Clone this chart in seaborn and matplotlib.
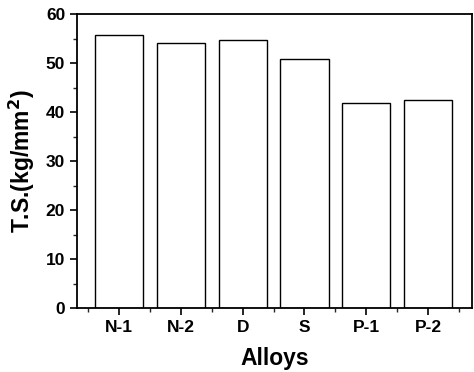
import matplotlib
matplotlib.use("Agg")
import matplotlib.pyplot as plt
import seaborn as sns
import pandas as pd
from matplotlib.ticker import MultipleLocator, FixedLocator

alloys = ["N-1", "N-2", "D", "S", "P-1", "P-2"]
ts_values = [55.7, 54.1, 54.7, 50.8, 41.8, 42.4]

sns.set_theme(style="ticks")
plt.rcParams['font.family'] = ['Liberation Sans', 'DejaVu Sans']
plt.rcParams['font.weight'] = 'bold'

df = pd.DataFrame({"Alloys": alloys, "TS": ts_values})

fig = plt.figure(figsize=(4.74, 3.72), dpi=100)
ax = fig.add_axes([77/474, 1-308/372, (472-77)/474, (308-14)/372])
sns.barplot(data=df, x="Alloys", y="TS", color="white", edgecolor="black",
            linewidth=1.0, width=0.78, ax=ax, saturation=1)

ax.set_xlim(-0.68, 5.71)
ax.set_ylim(0, 60)
ax.yaxis.set_major_locator(MultipleLocator(10))
ax.yaxis.set_minor_locator(MultipleLocator(5))
ax.xaxis.set_minor_locator(FixedLocator([-0.5, 0.5, 1.5, 2.5, 3.5, 4.5, 5.5]))
for s in ax.spines.values():
    s.set_visible(True)
    s.set_linewidth(1.3)
    s.set_color("black")
ax.tick_params(axis="both", which="major", direction="out", length=5, width=1.2,
               labelsize=12.5, colors="black")
ax.tick_params(axis="both", which="minor", direction="out", length=3, width=1.0)
for lab in ax.get_xticklabels() + ax.get_yticklabels():
    lab.set_fontweight("bold")
ax.set_xlabel("Alloys", fontsize=16.5, fontweight="bold", labelpad=9, color="black")
ax.set_ylabel("T.S.(kg/mm$^\\mathbf{2}$)", fontsize=16.5, fontweight="bold", labelpad=6, color="black")
ax.set_facecolor("white")
fig.savefig("out.png", dpi=100, facecolor="white")
